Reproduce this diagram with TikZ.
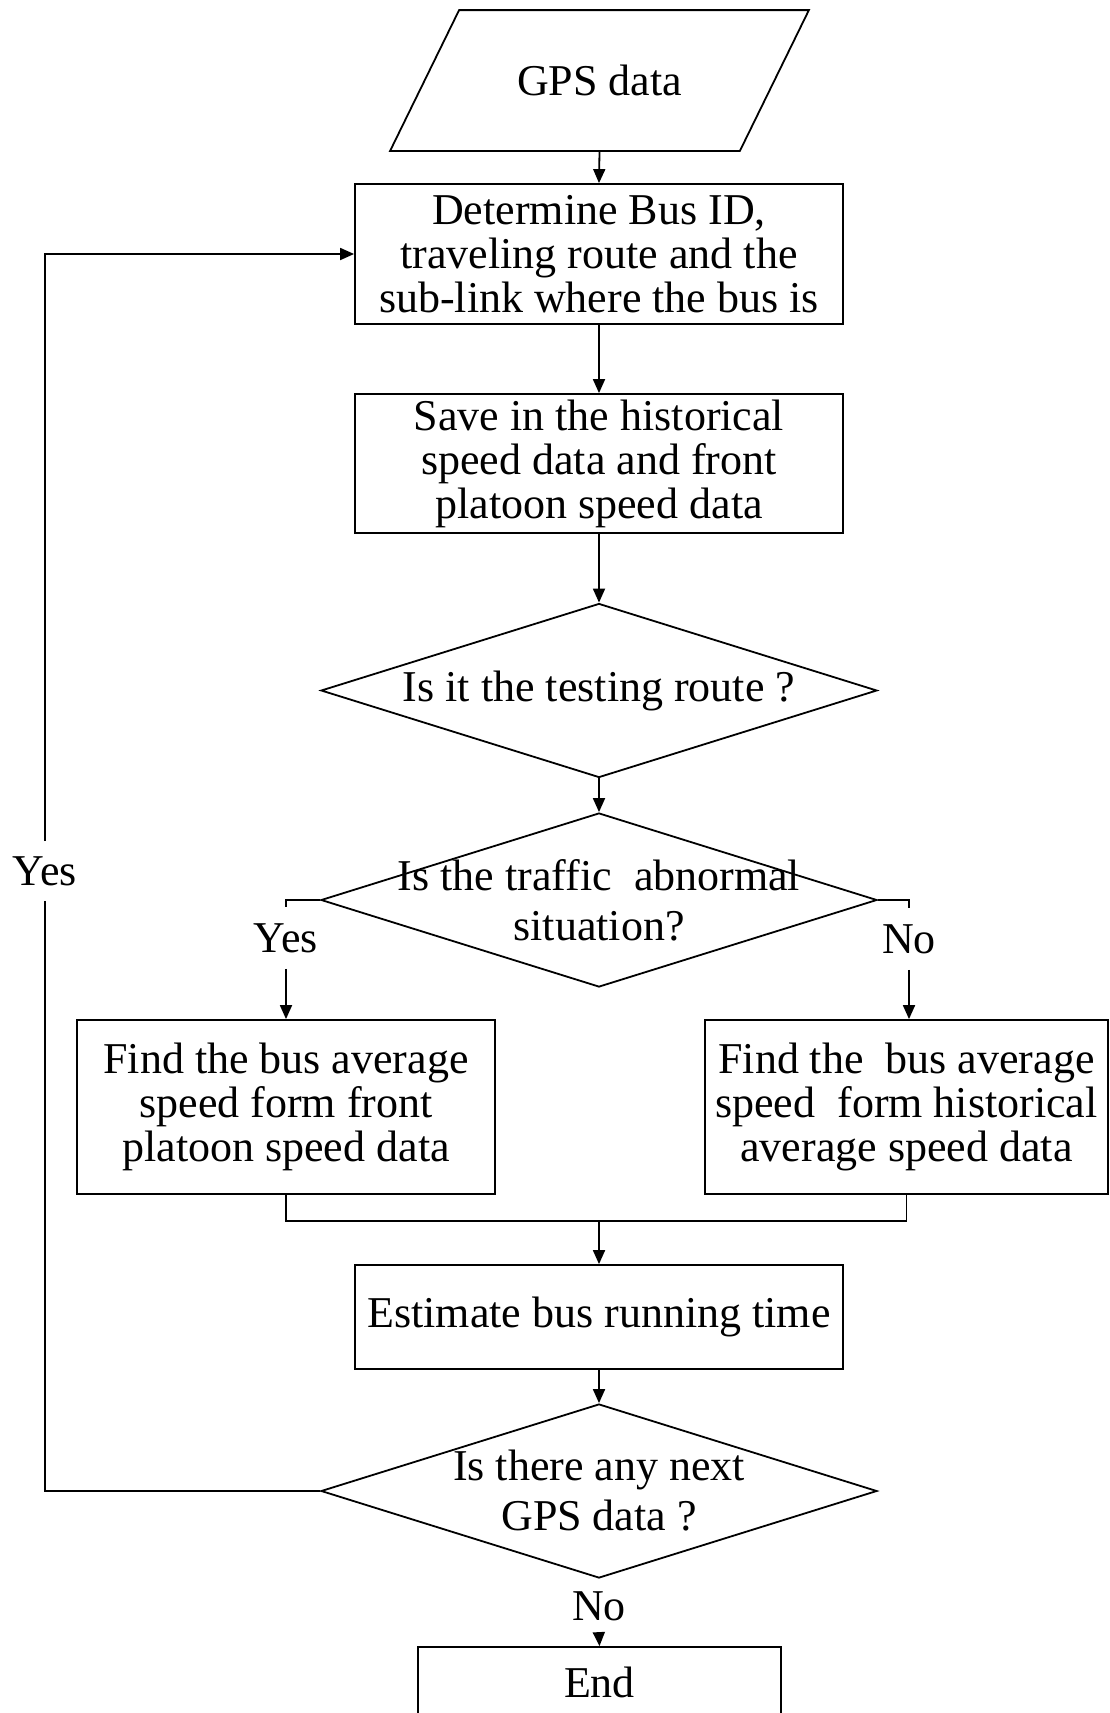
\documentclass[tikz,border=0pt]{standalone}
\usepackage{fontspec}
\setmainfont{Liberation Serif}
\usetikzlibrary{shapes.geometric,arrows.meta,calc}

\begin{document}
\begin{tikzpicture}[x=0.5pt,y=-0.5pt,
  line width=0.9pt,
  every node/.style={font=\fontsize{22}{22}\selectfont},
  proc/.style={draw, rectangle, align=center, inner sep=0pt},
  dec/.style={draw, diamond, inner sep=0pt, minimum width=278pt, minimum height=87pt},
  dtext/.style={align=center, font=\fontsize{22}{25}\selectfont, inner sep=0pt},
  tag/.style={inner sep=0pt, minimum height=30pt},
  flow/.style={-{Triangle[length=7pt,width=6pt]}}
]
\useasboundingbox (0,0) rectangle (1109,1713);
\clip (0,0) rectangle (1109,1713);

% input: parallelogram around the text node
\node[align=center, minimum width=174pt, minimum height=69.5pt, inner sep=0pt] (gps) at (599.5,80.5) {GPS data};
\draw ($(gps.north west)+(34.5,0)$) -- ($(gps.north east)+(34.5,0)$)
   -- ($(gps.south east)-(34.5,0)$) -- ($(gps.south west)-(34.5,0)$) -- cycle;

% process steps
\node[proc, minimum width=244pt, minimum height=70pt] (b1) at (599,254)
  {Determine Bus ID,\\traveling route and the\\sub-link where the bus is};
\node[proc, minimum width=244pt, minimum height=69.5pt] (b2) at (599,463.5)
  {Save in the historical\\speed data and front\\platoon speed data};

% decisions
\node[dec, label={[dtext]center:Is it the testing route ?}] (d1) at (599,690.5) {};
\node[dec, label={[dtext]center:Is the traffic\ \ abnormal\\situation?}] (d2) at (599,900) {};

% the two speed sources
\node[proc, minimum width=209pt, minimum height=87pt] (fa) at (286,1107)
  {Find the bus average\\speed form front\\platoon speed data};
\node[proc, minimum width=201.5pt, minimum height=87pt] (fb) at (906.5,1107)
  {Find the\ \ bus average\\speed\ \ form historical\\average speed data};

\node[proc, minimum width=244pt, minimum height=52pt] (est) at (599,1317)
  {Estimate bus running time};
\node[dec, label={[dtext]center:Is there any next\\GPS data ?}] (d3) at (599,1491) {};
\node[proc, minimum width=181.5pt, minimum height=35pt] (end) at (599.5,1682) {End};

% branch labels
\node[tag] (y1) at (286,938) {Yes};
\node[tag] (n1) at (909,939) {No};
\node[tag, minimum height=29pt] (y2) at (45,871) {Yes};
\node[tag, minimum height=29pt] (n2) at (599,1606) {No};

% connectors
\draw[flow] (gps.south) -- (b1.north);
\draw[flow] (b1.south) -- (b2.north);
\draw[flow] (b2.south) -- (d1.north);
\draw[flow] (d1.south) -- (d2.north);
\draw (d2.west) -| (y1.north);
\draw[flow] (y1.south) -- (fa.north);
\draw (d2.east) -| (n1.north);
\draw[flow] (n1.south) -- (n1.south |- fb.north);
\coordinate (mj) at (599,1221);
\draw (fa.south) |- (mj) -| (fb.south);
\draw[flow] (mj) -- (est.north);
\draw[flow] (est.south) -- (d3.north);
\draw (d3.west) -| (y2.south);
\draw[flow] (y2.north) |- (b1.west);
\draw[flow] (n2.south) -- (end.north);
\end{tikzpicture}
\end{document}
